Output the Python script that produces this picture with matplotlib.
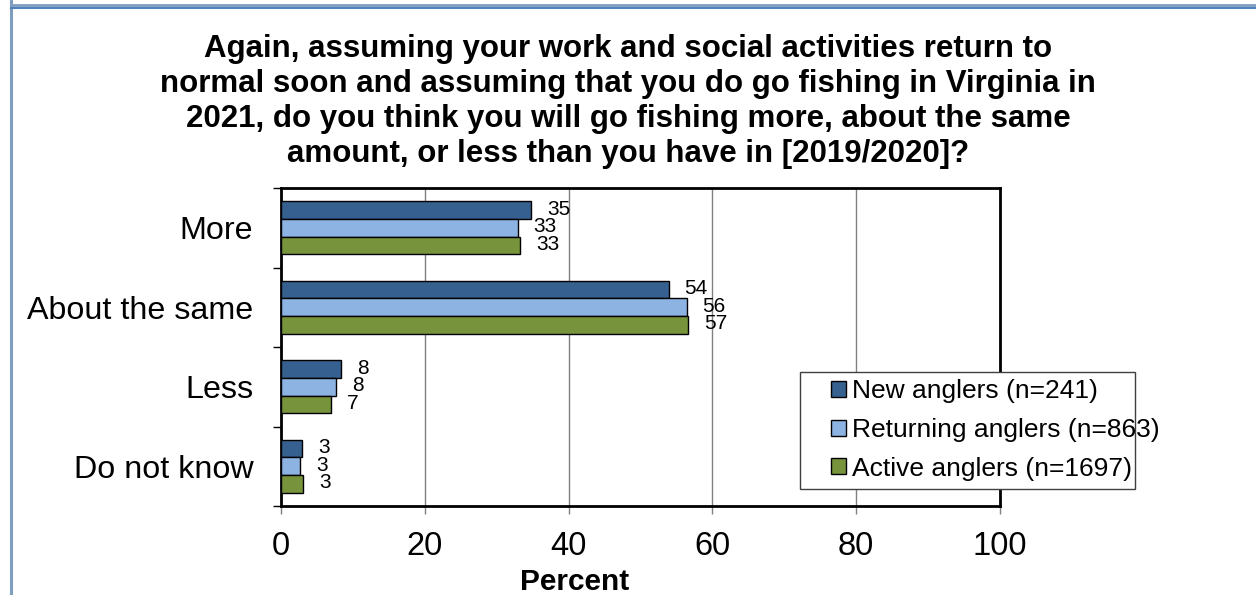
import matplotlib
matplotlib.use("Agg")
import matplotlib.pyplot as plt
import numpy as np
from matplotlib.lines import Line2D
from matplotlib.patches import Rectangle

plt.rcParams['font.family'] = ['Liberation Sans', 'DejaVu Sans']

categories = ["More", "About the same", "Less", "Do not know"]
series_names = ["New anglers (n=241)", "Returning anglers (n=863)", "Active anglers (n=1697)"]
new_anglers = [34.8, 53.9, 8.3, 2.9]
returning_anglers = [32.9, 56.4, 7.7, 2.7]
active_anglers = [33.3, 56.6, 6.9, 3.1]
colors = ["#36608F", "#8DB3E2", "#77933C"]
x_ticks = [0, 20, 40, 60, 80, 100]
title = ("Again, assuming your work and social activities return to\n"
         "normal soon and assuming that you do go fishing in Virginia in\n"
         "2021, do you think you will go fishing more, about the same\n"
         "amount, or less than you have in [2019/2020]?")

W, H = 1256, 595
fig = plt.figure(figsize=(W / 100, H / 100), dpi=100)

# outer frame lines
fig.add_artist(Line2D([11 / W, 11 / W], [0, 1], color="#7F9DBF", lw=2.2))
fig.add_artist(Line2D([11 / W, 1], [1 - 5 / H, 1 - 5 / H], color="#7F9DBF", lw=2.0))
fig.add_artist(Line2D([11 / W, 1], [1 - 8 / H, 1 - 8 / H], color="#4F81BD", lw=1.5))

left, right, top, bottom = 281, 1000, 188, 506
ax = fig.add_axes([left / W, 1 - bottom / H, (right - left) / W, (bottom - top) / H])


def ax_x(px):
    return (px - left) / (right - left)


def ax_y(py):
    return 1 - (py - top) / (bottom - top)


n = len(categories)
y = np.arange(n)
bh = 0.222
series = [new_anglers, returning_anglers, active_anglers]
for i, (vals, c, name) in enumerate(zip(series, colors, series_names)):
    pos = y + (i - 1) * bh
    ax.barh(pos, vals, height=bh, color=c, edgecolor="black", linewidth=1.0,
            label=name, zorder=3)
    for p, v in zip(pos, vals):
        ax.annotate(f"{v:.0f}", xy=(v, p), xytext=(16, 1), textcoords="offset pixels",
                    ha="left", va="center", fontsize=15, color="black", zorder=4)

ax.set_xlim(0, 100)
ax.set_ylim(n - 0.5, -0.5)
ax.set_xticks(x_ticks)
ax.set_xticklabels([str(t) for t in x_ticks], fontsize=23.5)
ax.set_yticks(y)
ax.set_yticklabels(categories, fontsize=23.2)
ax.tick_params(axis="y", length=0, pad=20)
ax.set_yticks(np.arange(-0.5, n, 1), minor=True)
ax.tick_params(axis="y", which="minor", length=6, width=1, color="black", direction="out")
ax.tick_params(axis="x", length=6, width=1, color="#808080", direction="out", pad=12)
ax.grid(axis="x", color="#808080", linewidth=1.0, zorder=0)
for s in ax.spines.values():
    s.set_linewidth(2.0)
    s.set_color("black")

fig.text(575 / W, 1 - 582 / H, "Percent", ha="center", va="center", fontsize=21.5,
         fontweight="bold")

fig.text(628 / W, 1 - 34 / H, title, ha="center", va="top", fontsize=22.5,
         fontweight="bold", linespacing=1.22)

# legend box
box = Rectangle((ax_x(800), ax_y(489)), ax_x(1135) - ax_x(800), ax_y(372) - ax_y(489),
                transform=ax.transAxes, facecolor="white", edgecolor="#404040",
                linewidth=1.0, clip_on=False, zorder=5)
ax.add_patch(box)
leg = ax.legend(loc="center left", bbox_to_anchor=(ax_x(831), ax_y(430)),
                bbox_transform=ax.transAxes, fontsize=19, frameon=False,
                borderpad=0, handlelength=0.55, handleheight=0.55, handletextpad=0.25,
                labelspacing=0.55, borderaxespad=0)
leg.set_zorder(6)

fig.savefig("out.png", dpi=100, facecolor="white")
